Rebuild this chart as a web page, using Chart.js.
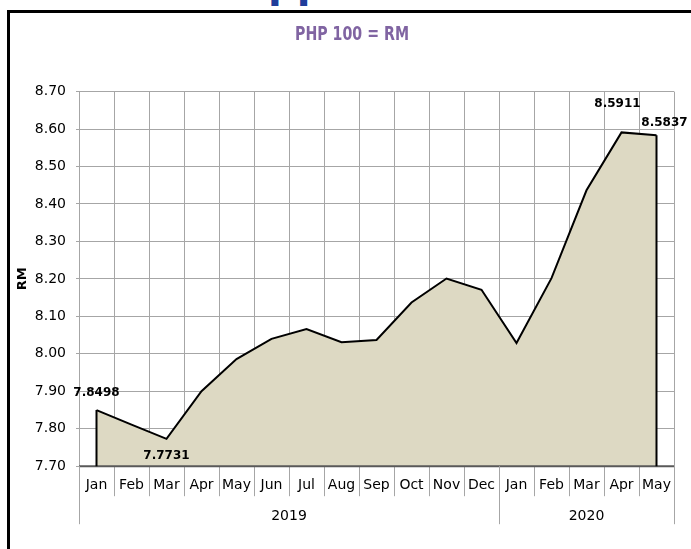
<!DOCTYPE html>
<html>
<head>
<meta charset="utf-8">
<script src="https://cdn.jsdelivr.net/npm/chart.js@4"></script>
<style>
  body { margin: 0; overflow: hidden; background: #fff; }
  #frame { position: absolute; left: 7px; top: 10px; width: 720px; height: 620px; border: 3px solid #000; }
  #head { position: absolute; left: 268px; top: -37px; font: bold 40px "DejaVu Sans"; line-height: 40px; color: #1f3d9a; }
  #wrap { position: absolute; left: 0; top: 0; width: 691px; height: 549px; }
</style>
</head>
<body>
<div id="head">pp</div>
<div id="frame"></div>
<div id="wrap"><canvas id="myChart"></canvas></div>
<script>
// PHP 100 in RM, monthly
const months = ["Jan", "Feb", "Mar", "Apr", "May", "Jun", "Jul", "Aug", "Sep", "Oct", "Nov", "Dec",
  "Jan", "Feb", "Mar", "Apr", "May"];
const years = ["2019", "2020"];
const yearStart = [0, 12];
const rates = [7.8498, 7.811, 7.7731, 7.9, 7.986, 8.04, 8.066, 8.031, 8.037, 8.137, 8.201, 8.171,
  8.029, 8.202, 8.4365, 8.5911, 8.5837];
const labelled = [0, 2, 15, 16];
const titleText = "PHP 100 = RM";

const grey = "#a6a6a6";

const extras = {
  id: "extras",
  afterDatasetsDraw(chart) {
    const ctx = chart.ctx;
    const a = chart.chartArea;
    const x = chart.scales.x;
    const pts = chart.getDatasetMeta(0).data;
    const last = pts[pts.length - 1];
    ctx.save();

    // title (frame is wider than the window, so centre by hand; narrow font)
    ctx.fillStyle = "#8064a2";
    ctx.font = "bold 19px 'DejaVu Sans'";
    ctx.textAlign = "center";
    ctx.textBaseline = "middle";
    ctx.fillText(titleText, 352, 35, 114);

    // x axis line
    ctx.strokeStyle = "#595959";
    ctx.lineWidth = 2;
    ctx.beginPath();
    ctx.moveTo(a.left, a.bottom);
    ctx.lineTo(a.right, a.bottom);
    ctx.stroke();

    // close the area at both ends
    ctx.strokeStyle = "#000";
    ctx.beginPath();
    ctx.moveTo(pts[0].x, pts[0].y);
    ctx.lineTo(pts[0].x, a.bottom);
    ctx.moveTo(last.x, last.y);
    ctx.lineTo(last.x, a.bottom);
    ctx.stroke();

    // year separators + labels
    const half = (x.getPixelForValue(1) - x.getPixelForValue(0)) / 2;
    const edges = yearStart.map((i) => x.getPixelForValue(i) - half).concat([a.right]);
    ctx.strokeStyle = grey;
    ctx.lineWidth = 1;
    ctx.beginPath();
    edges.forEach((e) => {
      const px = Math.round(e) + 0.5;
      ctx.moveTo(px, a.bottom);
      ctx.lineTo(px, a.bottom + 58);
    });
    ctx.stroke();
    ctx.fillStyle = "#000";
    ctx.font = "14px 'DejaVu Sans'";
    years.forEach((yr, k) => {
      ctx.fillText(yr, (edges[k] + edges[k + 1]) / 2, a.bottom + 50);
    });

    // value labels
    ctx.font = "bold 12px 'DejaVu Sans'";
    labelled.forEach((i) => {
      const p = pts[i];
      let dx = 0, dy = -17;
      if (i === 2) dy = 17;
      if (i === 15) { dx = -4; dy = -29; }
      if (i === 16) { dx = 8; dy = -12; }
      ctx.fillText(rates[i].toFixed(4), p.x + dx, p.y + dy);
    });
    ctx.restore();
  },
};

new Chart("myChart", {
  type: "line",
  data: {
    labels: months,
    datasets: [
      {
        data: rates,
        borderColor: "#000",
        borderWidth: 2,
        backgroundColor: "#ddd9c3",
        fill: "start",
        pointRadius: 0,
        tension: 0,
      },
    ],
  },
  options: {
    responsive: true,
    maintainAspectRatio: false,
    animation: false,
    layout: { padding: { left: 11, right: 17, top: 91.6, bottom: 0 } },
    plugins: {
      legend: { display: false },
      tooltip: { enabled: false },
      title: { display: false },
    },
    scales: {
      x: {
        offset: true,
        grid: { offset: true, color: grey, tickColor: grey, tickLength: 30 },
        border: { color: grey },
        ticks: { color: "#000", padding: -19, maxRotation: 0, autoSkip: false,
          font: { family: "DejaVu Sans", size: 14 } },
        afterFit: (s) => { s.height = 82.8; },
      },
      y: {
        min: 7.7,
        max: 8.7,
        grid: { color: grey, tickColor: grey, tickLength: 3 },
        border: { color: grey },
        ticks: { stepSize: 0.1, color: "#000", padding: 10,
          font: { family: "DejaVu Sans", size: 14 },
          callback: (v) => v.toFixed(2) },
        title: { display: true, text: "RM", color: "#000",
          font: { family: "DejaVu Sans", size: 13, weight: "bold" } },
        afterFit: (s) => { s.width = 68; },
      },
    },
  },
  plugins: [extras],
});
</script>
</body>
</html>
